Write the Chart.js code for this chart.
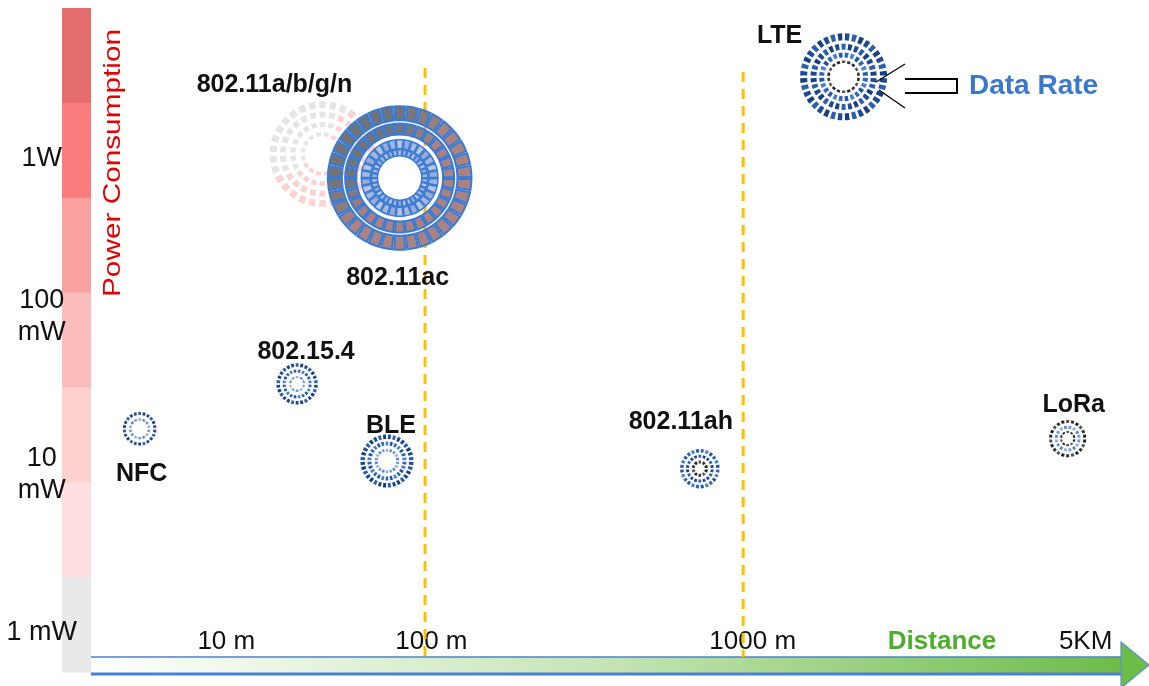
<!DOCTYPE html>
<html><head><meta charset="utf-8">
<script src="https://cdn.jsdelivr.net/npm/chart.js@4.4.1/dist/chart.umd.min.js"></script>
<style>html,body{margin:0;padding:0;background:#fff;overflow:hidden}</style>
</head><body>
<canvas id="c" width="1149" height="686"></canvas>
<script>
// ---- data ----
const technologies   = ['NFC', '802.15.4', 'BLE', '802.11a/b/g/n', '802.11ac', '802.11ah', 'LTE', 'LoRa'];
const distancePos    = [4.6, 19.5, 28.0, 21.9, 29.2, 57.6, 71.2, 92.4];   // position on the distance axis
const powerMw        = [19.5, 37.5, 12.2, 1070, 755, 10.9, 3300, 16.9];   // power consumption (mW)
const dataRateSize   = [17, 21, 27, 52, 72, 20, 43, 19];                  // bubble size = data rate
const distTickPos    = [12.8, 32.2, 62.6, 94.1];
const distTickLabels = ['10 m', '100 m', '1000 m', '5KM'];
const powerTickVals  = [1, 10, 100, 1000];
const powerTickLabels= ['1 mW', ['10', 'mW'], ['100', 'mW'], '1W'];
const rangeBoundaries= [31.6, 61.7];

const FONT = '"Liberation Sans", Arial, sans-serif';

// ---- styles ----
const palettes = {
  navy: ['#1d4a95', '#2b5fb0', '#16407f'],
  blue: ['#2f66bb', '#4a7fcc', '#2356a8'],
  sky:  ['#6f98d8', '#8fb0e4', '#5a86cc'],
  dark: ['#222222', '#555555', '#333333'],
  pale: ['#a6b6dc', '#b9c4e0', '#97abd8']
};
// [radius fraction, width, segments, colour, outlined]
const ringStyles = {
  'NFC':           [[0.9, 3, 22, 'navy'], [0.55, 2.5, 14, 'sky']],
  '802.15.4':      [[0.9, 3.5, 26, 'navy'], [0.62, 3, 20, 'blue'], [0.33, 2, 10, 'sky']],
  'BLE':           [[0.9, 4.5, 32, 'navy'], [0.65, 4, 26, 'blue'], [0.4, 3, 18, 'sky']],
  '802.11a/b/g/n': [[0.95, 7, 30, 'faint'], [0.76, 6, 26, 'faint'], [0.57, 5, 22, 'faint'], [0.38, 4, 16, 'faint']],
  '802.11ac':      [[0.9, 14, 34, 'block', true], [0.68, 11, 30, 'block', true], [0.47, 9, 30, 'pale', true], [0.35, 6, 34, 'pale', true]],
  '802.11ah':      [[0.9, 3.5, 24, 'blue'], [0.62, 3, 18, 'navy'], [0.33, 3, 10, 'dark']],
  'LTE':           [[0.93, 7, 36, 'navy'], [0.7, 6, 30, 'navy'], [0.51, 5, 24, 'blue'], [0.35, 2.5, 18, 'dark']],
  'LoRa':          [[0.9, 3, 22, 'dark'], [0.6, 3, 16, 'sky'], [0.35, 2, 10, 'dark']]
};
const labelOffset = {
  'NFC': [2, 45], '802.15.4': [9, -32], 'BLE': [4, -35], '802.11a/b/g/n': [-48, -69],
  '802.11ac': [-2, 100], '802.11ah': [-19, -47], 'LTE': [-64, -41], 'LoRa': [6, -33]
};

function mix(c1, c2, t) {
  return 'rgb(' + c1.map((v, i) => Math.round(v + (c2[i] - v) * t)).join(',') + ')';
}
function segColor(key, ang, i) {
  if (key === 'block') {
    const t = Math.max(0, Math.cos(ang - 1.25 * Math.PI));
    return mix([170, 130, 130], [112, 116, 122], Math.min(1, t * 1.4));
  }
  if (key === 'faint') {
    const t = Math.max(0, Math.cos(ang - 1.25 * Math.PI));
    return t > 0.3 ? 'rgba(226,226,226,0.9)' : 'rgba(252,205,205,0.9)';
  }
  const p = palettes[key];
  return p[i % p.length];
}
function segRing(ctx, cx, cy, r, w, n, key, outlined) {
  const step = 2 * Math.PI / n;
  const gap = outlined ? 0.16 : 0.38;
  for (let i = 0; i < n; i++) {
    const a0 = i * step + gap * step / 2, a1 = (i + 1) * step - gap * step / 2;
    ctx.beginPath();
    ctx.arc(cx, cy, r + w / 2, a0, a1);
    ctx.arc(cx, cy, Math.max(0.5, r - w / 2), a1, a0, true);
    ctx.closePath();
    ctx.fillStyle = segColor(key, (a0 + a1) / 2, i);
    ctx.fill();
    if (outlined) { ctx.strokeStyle = '#3a7bd5'; ctx.lineWidth = w > 10 ? 2 : 1.5; ctx.stroke(); }
  }
}

const deco = {
  id: 'deco',
  beforeDraw(chart) {
    const {ctx, chartArea: a} = chart;
    ctx.save();
    // power bar
    const bands = ['#e36d6d', '#fa7b7b', '#f9a1a1', '#fbbcbc', '#fdd0d0', '#fee0e0', '#e9e9e9'];
    const top = a.top, bot = 672, h = (bot - top) / bands.length;
    bands.forEach((c, i) => { ctx.fillStyle = c; ctx.fillRect(62, top + i * h, 29, h + 0.6); });
    // distance arrow
    const x0 = a.left, xh = 1121, y0 = 657, y1 = 673;
    const g = ctx.createLinearGradient(x0, 0, xh, 0);
    g.addColorStop(0, '#ffffff'); g.addColorStop(0.5, '#c6e4b6'); g.addColorStop(1, '#6dbc47');
    ctx.fillStyle = g; ctx.fillRect(x0, y0, xh - x0, y1 - y0);
    ctx.strokeStyle = '#4a80d2';
    ctx.lineWidth = 1.5; ctx.beginPath(); ctx.moveTo(x0, y0); ctx.lineTo(xh, y0); ctx.stroke();
    ctx.lineWidth = 3; ctx.beginPath(); ctx.moveTo(x0, y1 + 1); ctx.lineTo(xh, y1 + 1); ctx.stroke();
    ctx.beginPath(); ctx.moveTo(xh, 642); ctx.lineTo(1149, 665); ctx.lineTo(xh, 688); ctx.closePath();
    ctx.fillStyle = '#6cbd45'; ctx.fill(); ctx.lineWidth = 1.2; ctx.strokeStyle = '#5d8fd6'; ctx.stroke();
    ctx.restore();
  },
  beforeDatasetsDraw(chart) {
    const {ctx, chartArea: a, scales: {x}} = chart;
    ctx.save();
    // Power Consumption title
    ctx.translate(113, 163); ctx.rotate(-Math.PI / 2); ctx.scale(1.24, 1);
    ctx.fillStyle = '#e00000'; ctx.font = '24px ' + FONT;
    ctx.textAlign = 'center'; ctx.textBaseline = 'middle';
    ctx.fillText('Power Consumption', 0, 0);
    ctx.restore();
    // range boundaries
    ctx.save();
    ctx.strokeStyle = '#ffc000'; ctx.lineWidth = 3; ctx.setLineDash([10, 7]);
    rangeBoundaries.forEach((v, i) => {
      const px = x.getPixelForValue(v);
      ctx.beginPath(); ctx.moveTo(px, a.top + 60 + i * 4); ctx.lineTo(px, a.bottom); ctx.stroke();
    });
    ctx.restore();
    // "Distance"
    ctx.save();
    ctx.fillStyle = '#4cae2c'; ctx.font = 'bold 26px ' + FONT;
    ctx.textAlign = 'center'; ctx.textBaseline = 'middle';
    ctx.fillText('Distance', 942, 642);
    ctx.restore();
  },
  afterDatasetsDraw(chart) {
    const {ctx} = chart;
    const meta = chart.getDatasetMeta(0);
    ctx.save();
    meta.data.forEach((el, i) => {
      const name = technologies[i];
      const R = el.options.radius;
      (ringStyles[name] || []).forEach(rs => segRing(ctx, el.x, el.y, rs[0] * R, rs[1], rs[2], rs[3], rs[4]));
    });
    ctx.fillStyle = '#111'; ctx.font = 'bold 25px ' + FONT;
    ctx.textAlign = 'center'; ctx.textBaseline = 'middle';
    meta.data.forEach((el, i) => {
      const name = technologies[i], o = labelOffset[name] || [0, -30];
      ctx.fillText(name, el.x + o[0], el.y + o[1]);
    });
    // data rate legend
    ctx.strokeStyle = '#000'; ctx.lineWidth = 1.3;
    ctx.beginPath(); ctx.moveTo(876, 82); ctx.lineTo(905, 64); ctx.stroke();
    ctx.beginPath(); ctx.moveTo(879, 90); ctx.lineTo(905, 108); ctx.stroke();
    ctx.lineWidth = 2;
    ctx.beginPath(); ctx.moveTo(905, 79); ctx.lineTo(957, 79); ctx.lineTo(957, 93); ctx.lineTo(905, 93); ctx.stroke();
    ctx.fillStyle = '#3a78d0'; ctx.font = 'bold 28px ' + FONT; ctx.textAlign = 'left';
    ctx.fillText('Data Rate', 969, 86);
    ctx.restore();
  }
};

new Chart(document.getElementById('c'), {
  type: 'bubble',
  data: {
    datasets: [{
      data: technologies.map((t, i) => ({x: distancePos[i], y: powerMw[i], r: dataRateSize[i]})),
      radius: 0,
      backgroundColor: 'rgba(0,0,0,0)',
      borderWidth: 0,
      clip: false
    }]
  },
  plugins: [deco],
  options: {
    responsive: false,
    animation: false,
    devicePixelRatio: 1,
    events: [],
    layout: {autoPadding: false, padding: {top: 8, right: 1, left: 0, bottom: 0}},
    plugins: {legend: {display: false}, tooltip: {enabled: false}},
    scales: {
      x: {
        type: 'linear', min: 0, max: 100,
        grid: {display: false, drawTicks: false}, border: {display: false},
        afterBuildTicks: s => { s.ticks = distTickPos.map(v => ({value: v})); },
        afterFit: s => { s.height = 29; s.paddingLeft = 0; s.paddingRight = 0; },
        ticks: {
          mirror: true, padding: 0, autoSkip: false, maxRotation: 0,
          color: '#111', font: {family: FONT, size: 26},
          callback: (v, i) => distTickLabels[i]
        }
      },
      y: {
        type: 'logarithmic', min: 0.74, max: 9000,
        grid: {display: false, drawTicks: false}, border: {display: false},
        afterBuildTicks: s => { s.ticks = powerTickVals.map(v => ({value: v})); },
        afterFit: s => { s.width = 91; s.paddingTop = 0; s.paddingBottom = 0; },
        ticks: {
          crossAlign: 'center', padding: 14, autoSkip: false,
          color: '#111', font: {family: FONT, size: 27, lineHeight: 1.19},
          callback: (v, i) => powerTickLabels[i]
        }
      }
    }
  }
});
</script>
</body></html>
